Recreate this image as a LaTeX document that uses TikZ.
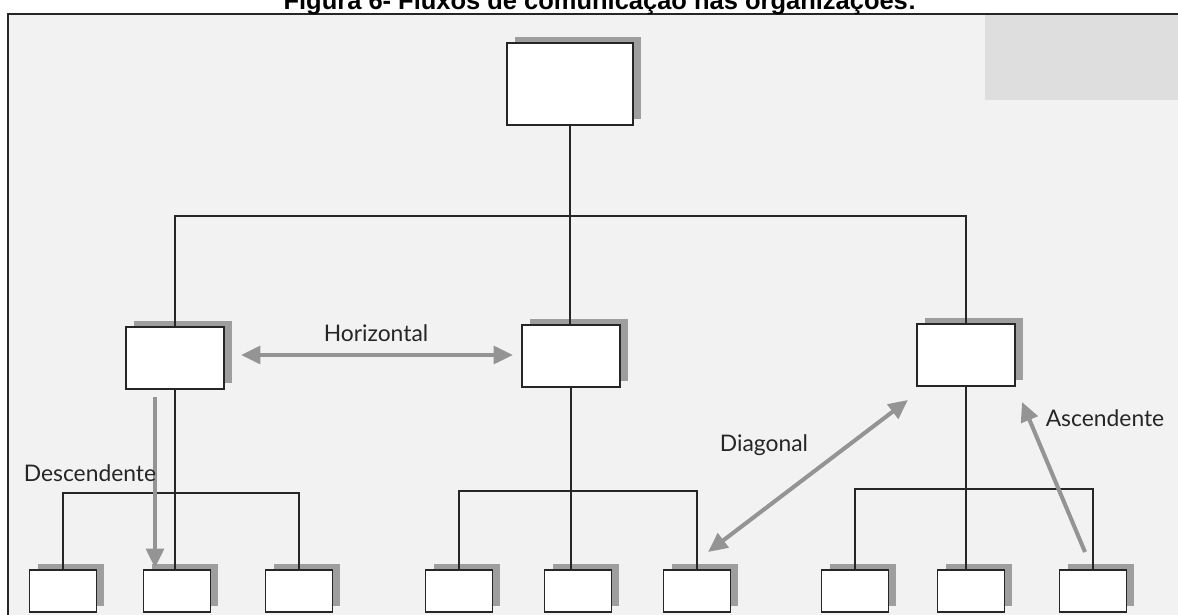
\documentclass[tikz,border=0pt]{standalone}
\usepackage{fontspec}
\setmainfont{Lato}
\newfontfamily\titlefont{Liberation Sans}
\usetikzlibrary{arrows.meta, shadows}
\definecolor{lineBlack}{gray}{0.15}
\definecolor{flowGray}{gray}{0.58}
\definecolor{shadowGray}{gray}{0.62}
\definecolor{paperGray}{gray}{0.95}
\definecolor{panelGray}{gray}{0.87}

\begin{document}
\begin{tikzpicture}[x=0.02cm, y=-0.02cm, >={Triangle[length=11pt, width=10pt]},
    box/.style={draw=lineBlack, line width=1.1pt, fill=white, inner sep=0pt,
      drop shadow={shadow xshift=0.16cm, shadow yshift=0.12cm, fill=shadowGray, opacity=1}},
    topbox/.style={box, minimum width=2.52cm, minimum height=1.64cm},
    midbox/.style={box, minimum width=1.96cm, minimum height=1.24cm},
    lowbox/.style={box, minimum width=1.34cm, minimum height=0.84cm},
    link/.style={draw=lineBlack, line width=0.9pt},
    flow/.style={draw=flowGray, fill=flowGray, line width=2.3pt},
    flowlabel/.style={font=\fontsize{13}{15}\selectfont, text=black!85, inner sep=1pt}]
    \useasboundingbox (0,0) rectangle (1178,615);

    % Page
    \fill[paperGray] (8,14) rectangle (1178,615);
    \fill[panelGray] (985,14) rectangle (1178,100);
    \draw[lineBlack, line width=1.2pt] (8,615) -- (8,14) -- (1178,14);
    \node[anchor=base, font=\titlefont\bfseries\fontsize{14.5}{16}\selectfont] (title) at (600,10)
      {Figura 6- Fluxos de comunicação nas organizações:};

    % Boxes
    \node[topbox] (top) at (570,84) {};
    \node[midbox] (left) at (175,358) {};
    \node[midbox] (mid) at (571,356) {};
    \node[midbox] (right) at (966,355) {};
    \foreach \name/\x in {b1/63, b2/177, b3/299, b4/459, b5/578, b6/697, b7/855, b8/971, b9/1093}
      \node[lowbox] (\name) at (\x,591) {};

    % Chain of command
    \coordinate (busTop) at (0,216);
    \coordinate (busL) at (0,493);
    \coordinate (busM) at (0,491);
    \coordinate (busR) at (0,489);
    \draw[link] (top.south) -- (top.south |- mid.north);
    \draw[link] (left.north) |- (right.north |- busTop) -- (right.north);
    \draw[link] (left.south) -- (left.south |- b2.north);
    \draw[link] (mid.south) -- (mid.south |- b5.north);
    \draw[link] (right.south) -- (right.south |- b8.north);
    \draw[link] (b1.north) |- (b3.north |- busL) -- (b3.north);
    \draw[link] (b4.north) |- (b6.north |- busM) -- (b6.north);
    \draw[link] (b7.north) |- (b9.north |- busR) -- (b9.north);

    % Flows
    \coordinate (hA) at (241,355);
    \coordinate (hB) at (513,355);
    \coordinate (dA) at (155,397);
    \coordinate (dB) at (155,568);
    \coordinate (gA) at (708,552);
    \coordinate (gB) at (908,400);
    \coordinate (aA) at (1085,552);
    \coordinate (aB) at (1022,402);
    \draw[flow, <->] (hA) -- (hB);
    \draw[flow, ->] (dA) -- (dB);
    \draw[flow, <->] (gA) -- (gB);
    \draw[flow, ->] (aA) -- (aB);

    \node[flowlabel] (hLabel) at (376,333) {Horizontal};
    \node[flowlabel] (dLabel) at (90,473) {Descendente};
    \node[flowlabel] (gLabel) at (764,445) {Diagonal};
    \node[flowlabel] (aLabel) at (1105,418) {Ascendente};
\end{tikzpicture}
\end{document}
